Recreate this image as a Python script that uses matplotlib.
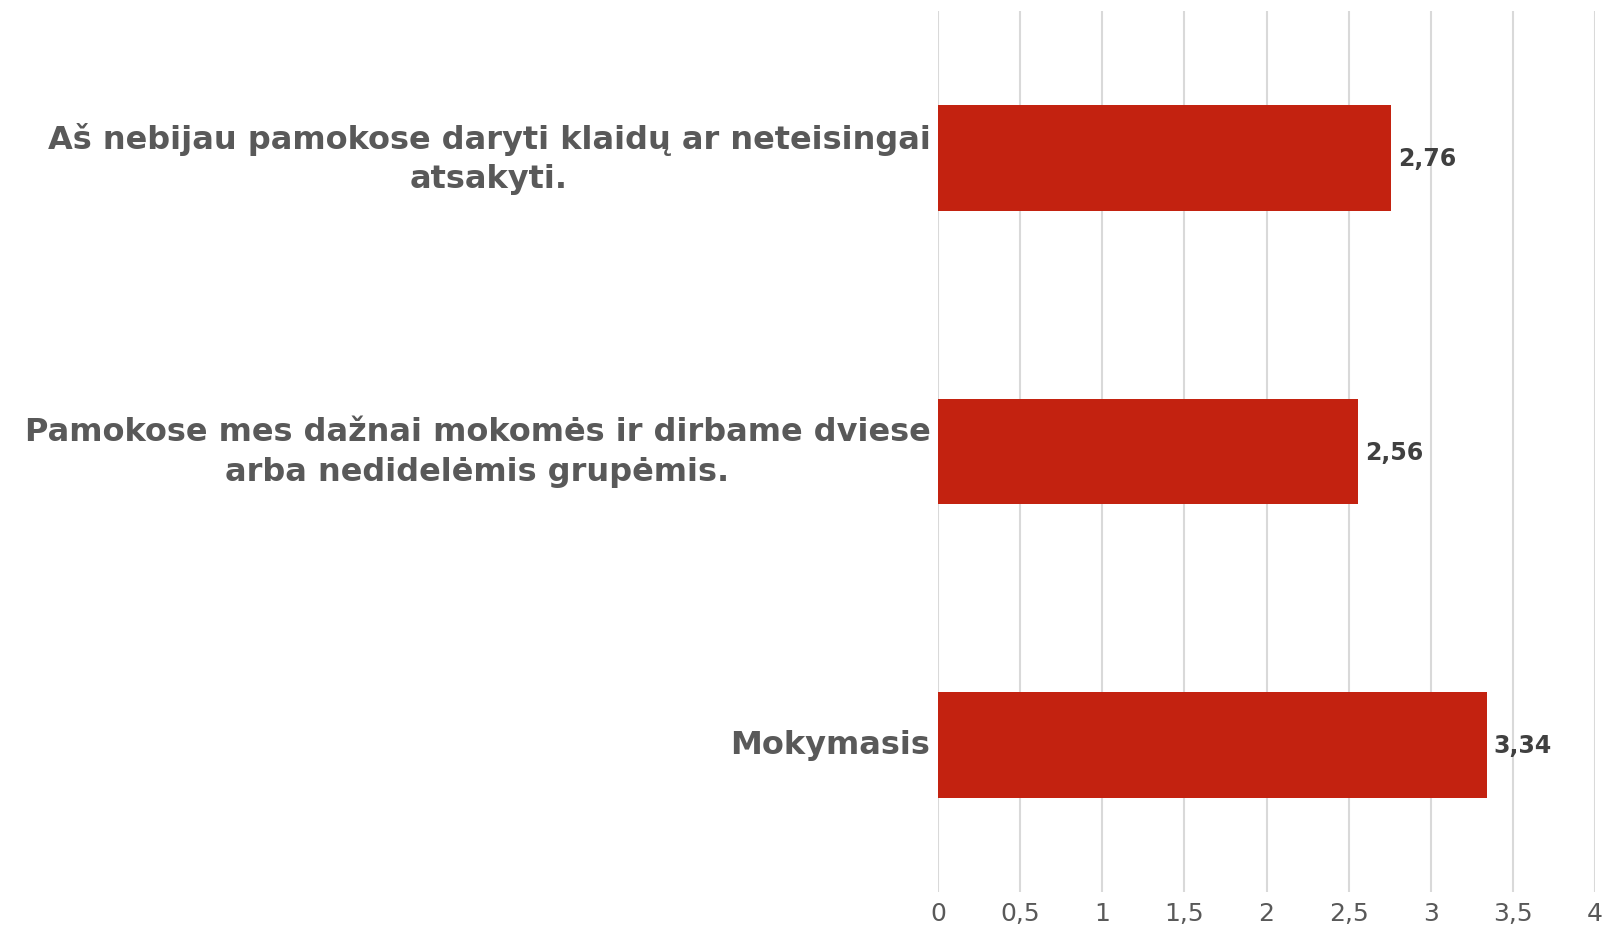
import matplotlib.pyplot as plt

plt.rcParams['font.family'] = ['DejaVu Sans']

categories = ["Aš nebijau pamokose daryti klaidų ar neteisingai\natsakyti.",
              "Pamokose mes dažnai mokomės ir dirbame dviese\narba nedidelėmis grupėmis.",
              "Mokymasis"]
values = [2.76, 2.56, 3.34]
xticks = [0, 0.5, 1, 1.5, 2, 2.5, 3, 3.5, 4]
xtick_labels = ["0", "0,5", "1", "1,5", "2", "2,5", "3", "3,5", "4"]

fig = plt.figure(figsize=(16.04, 9.28), dpi=100)
ax = fig.add_axes([0.5848, 0.0381, 0.4096, 0.9485])

ypos = list(range(len(categories)))
ax.barh(ypos, values, height=0.36, color="#C32210", zorder=3)
ax.set_ylim(len(categories) - 0.5, -0.5)
ax.set_xlim(0, 4)

for y, v in zip(ypos, values):
    ax.text(v + 0.04, y, f"{v:.2f}".replace(".", ","), va="center", ha="left",
            fontsize=17, fontweight="bold", color="#404040")

ax.grid(axis="x", color="#D9D9D9", linewidth=1.5, zorder=0)
ax.tick_params(axis="both", length=0)
ax.tick_params(axis="y", pad=5.5)
ax.tick_params(axis="x", pad=7)
for s in ax.spines.values():
    s.set_visible(False)

ax.set_xticks(xticks)
ax.set_xticklabels(xtick_labels, fontsize=18, color="#595959")
ax.set_yticks(ypos)
ax.set_yticklabels(categories, fontsize=23, fontweight="bold", color="#595959",
                   linespacing=1.35, va="center")
for t in ax.get_yticklabels():
    t.set_multialignment("center")

fig.savefig("out.png", dpi=100)
